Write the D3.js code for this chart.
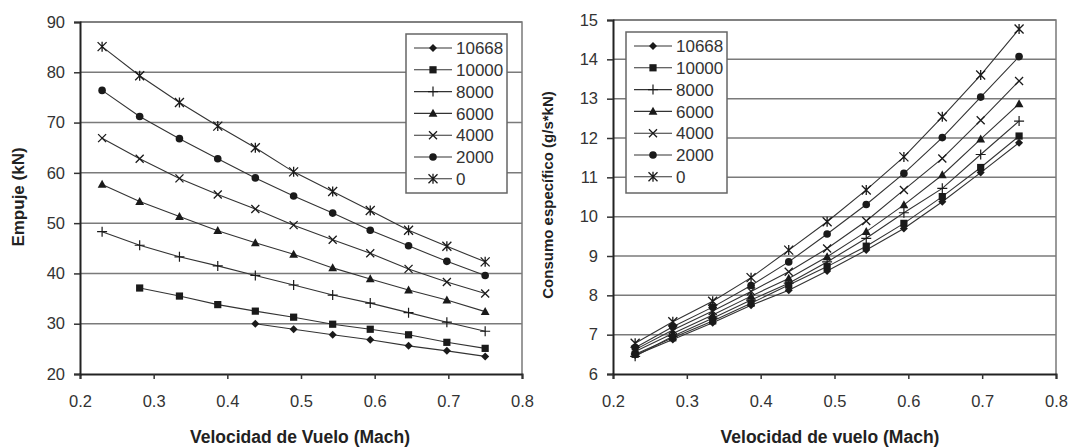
<!DOCTYPE html>
<html><head><meta charset="utf-8">
<script src="https://cdn.jsdelivr.net/npm/d3@7"></script>
<style>body{margin:0;background:#fff;} svg{display:block;font-family:"Liberation Sans",Arial,sans-serif;}</style>
</head><body>
<svg id="c" width="1071" height="448"></svg>
<script>
const mach = [0.23, 0.281, 0.335, 0.387, 0.438, 0.49, 0.543, 0.594, 0.646, 0.698, 0.75];
const seriesNames = ["10668", "10000", "8000", "6000", "4000", "2000", "0"];
const markerTypes = ["diamond", "square", "plus", "triangle", "cross", "circle", "asterisk"];

const thrust_10668 = [null, null, null, null, 30.0, 28.9, 27.8, 26.8, 25.6, 24.6, 23.5];
const thrust_10000 = [null, 37.1, 35.5, 33.8, 32.5, 31.3, 29.9, 28.9, 27.8, 26.3, 25.1];
const thrust_8000  = [48.3, 45.6, 43.3, 41.5, 39.6, 37.7, 35.7, 34.1, 32.2, 30.3, 28.5];
const thrust_6000  = [57.7, 54.3, 51.3, 48.5, 46.1, 43.8, 41.1, 38.9, 36.7, 34.7, 32.4];
const thrust_4000  = [66.9, 62.8, 58.9, 55.7, 52.8, 49.6, 46.7, 44.0, 40.9, 38.3, 36.0];
const thrust_2000  = [76.4, 71.2, 66.8, 62.8, 59.0, 55.4, 52.0, 48.6, 45.5, 42.4, 39.6];
const thrust_0     = [85.1, 79.3, 74.0, 69.3, 65.0, 60.2, 56.3, 52.5, 48.6, 45.4, 42.3];

const sfc_10668 = [6.48, 6.88, 7.30, 7.75, 8.13, 8.62, 9.15, 9.70, 10.38, 11.12, 11.88];
const sfc_10000 = [6.50, 6.92, 7.35, 7.80, 8.26, 8.73, 9.25, 9.83, 10.51, 11.25, 12.05];
const sfc_8000  = [6.45, 6.96, 7.42, 7.88, 8.31, 8.85, 9.45, 10.10, 10.72, 11.58, 12.43];
const sfc_6000  = [6.57, 7.03, 7.50, 7.98, 8.43, 8.98, 9.62, 10.30, 11.06, 11.97, 12.87];
const sfc_4000  = [6.62, 7.12, 7.60, 8.10, 8.60, 9.19, 9.89, 10.68, 11.48, 12.45, 13.45];
const sfc_2000  = [6.67, 7.20, 7.70, 8.25, 8.85, 9.56, 10.31, 11.10, 12.01, 13.04, 14.07];
const sfc_0     = [6.78, 7.33, 7.85, 8.45, 9.15, 9.87, 10.68, 11.52, 12.54, 13.60, 14.77];

const xTicks = [0.2, 0.3, 0.4, 0.5, 0.6, 0.7, 0.8];
const thrustTicks = [20, 30, 40, 50, 60, 70, 80, 90];
const sfcTicks = [6, 7, 8, 9, 10, 11, 12, 13, 14, 15];

const thrustSeries = [thrust_10668, thrust_10000, thrust_8000, thrust_6000, thrust_4000, thrust_2000, thrust_0];
const sfcSeries = [sfc_10668, sfc_10000, sfc_8000, sfc_6000, sfc_4000, sfc_2000, sfc_0];

const svg = d3.select("#c");
const ink = "#1a1a1a";

function drawMarker(g, type, x, y) {
  const m = g.append("g").attr("transform", `translate(${x},${y})`);
  const s = 4;
  if (type === "diamond") {
    m.append("path").attr("d", `M0,${-s}L${s},0L0,${s}L${-s},0Z`).attr("fill", ink);
  } else if (type === "square") {
    m.append("rect").attr("x", -3.6).attr("y", -3.6).attr("width", 7.2).attr("height", 7.2).attr("fill", ink);
  } else if (type === "plus") {
    m.append("path").attr("d", `M-5,0H5M0,-5V5`).attr("stroke", ink).attr("stroke-width", 1.2);
  } else if (type === "triangle") {
    m.append("path").attr("d", `M0,-4.6L4.4,3.4L-4.4,3.4Z`).attr("fill", ink);
  } else if (type === "cross") {
    m.append("path").attr("d", `M-4,-4L4,4M-4,4L4,-4`).attr("stroke", ink).attr("stroke-width", 1.3);
  } else if (type === "circle") {
    m.append("circle").attr("r", 3.8).attr("fill", ink);
  } else if (type === "asterisk") {
    m.append("path").attr("d", `M-4.5,-4.5L4.5,4.5M-4.5,4.5L4.5,-4.5M0,-5V5`).attr("stroke", ink).attr("stroke-width", 1.3);
  }
}

function drawChart(cfg) {
  const {left, right, top, bottom, yDomain, yTicks, series, xTitle, xTitleX, yTitle, yTitleX, yTitleY, yTitleSize, legend} = cfg;
  const x = d3.scaleLinear().domain([0.2, 0.8]).range([left, right]);
  const y = d3.scaleLinear().domain(yDomain).range([bottom, top]);
  const g = svg.append("g");

  // gridlines
  g.append("g").selectAll("line").data(yTicks.filter(t => t !== yDomain[0])).join("line")
    .attr("x1", left).attr("x2", right).attr("y1", d => y(d)).attr("y2", d => y(d))
    .attr("stroke", "#7a7a7a").attr("stroke-width", 1.5);
  // frame top/right
  g.append("path").attr("d", `M${left},${top}H${right}V${bottom}`).attr("fill", "none")
    .attr("stroke", "#7a7a7a").attr("stroke-width", 1.5);

  // axes
  const xa = g.append("g").attr("transform", `translate(0,${bottom})`)
    .call(d3.axisBottom(x).tickValues(xTicks).tickFormat(d3.format(".1f")).tickSize(5).tickPadding(16));
  const ya = g.append("g").attr("transform", `translate(${left},0)`)
    .call(d3.axisLeft(y).tickValues(yTicks).tickSize(6).tickPadding(9));
  [xa, ya].forEach(a => {
    a.select(".domain").attr("stroke", "#222").attr("stroke-width", 2);
    a.selectAll(".tick line").attr("stroke", "#333").attr("stroke-width", 1.5);
    a.selectAll(".tick text").attr("fill", "#333").attr("font-size", 16.5)
      .attr("font-family", "'Liberation Sans', Arial, sans-serif");
  });

  // series
  const line = d3.line().defined(d => d[1] !== null).x(d => x(d[0])).y(d => y(d[1]));
  series.forEach((vals, i) => {
    const pts = mach.map((m, j) => [m, vals[j]]);
    g.append("path").datum(pts).attr("d", line).attr("fill", "none")
      .attr("stroke", "#333").attr("stroke-width", 1.1);
  });
  series.forEach((vals, i) => {
    mach.forEach((m, j) => {
      if (vals[j] !== null) drawMarker(g, markerTypes[i], x(m), y(vals[j]));
    });
  });

  // legend
  const lg = g.append("g");
  lg.append("rect").attr("x", legend.x).attr("y", legend.y).attr("width", legend.w).attr("height", legend.h)
    .attr("fill", "#fff").attr("stroke", "#666").attr("stroke-width", 1.5);
  seriesNames.forEach((name, i) => {
    const yy = legend.y + 14 + i * 21.8;
    lg.append("line").attr("x1", legend.x + 8).attr("x2", legend.x + 46).attr("y1", yy).attr("y2", yy)
      .attr("stroke", "#333").attr("stroke-width", 1.1);
    drawMarker(lg, markerTypes[i], legend.x + 27, yy);
    lg.append("text").attr("x", legend.x + 50).attr("y", yy).attr("dy", "0.36em")
      .attr("font-size", 17).attr("fill", "#333").text(name);
  });

  // titles
  g.append("text").attr("x", xTitleX).attr("y", 443).attr("text-anchor", "middle")
    .attr("font-size", 17.5).attr("font-weight", "bold").attr("fill", "#222").text(xTitle);
  g.append("text").attr("transform", `translate(${yTitleX},${yTitleY}) rotate(-90)`)
    .attr("text-anchor", "middle").attr("dy", "0.36em")
    .attr("font-size", yTitleSize).attr("font-weight", "bold").attr("fill", "#222").text(yTitle);
}

drawChart({
  left: 80, right: 522, top: 22, bottom: 374,
  yDomain: [20, 90], yTicks: thrustTicks, series: thrustSeries,
  xTitle: "Velocidad de Vuelo (Mach)", xTitleX: 300,
  yTitle: "Empuje (kN)", yTitleX: 18, yTitleY: 197, yTitleSize: 17,
  legend: {x: 406, y: 34, w: 101, h: 159}
});
drawChart({
  left: 613, right: 1056, top: 20, bottom: 374,
  yDomain: [6, 15], yTicks: sfcTicks, series: sfcSeries,
  xTitle: "Velocidad de vuelo (Mach)", xTitleX: 830,
  yTitle: "Consumo específico (g/s*kN)", yTitleX: 548, yTitleY: 195, yTitleSize: 15,
  legend: {x: 626, y: 32, w: 101, h: 161}
});
</script>
</body></html>
